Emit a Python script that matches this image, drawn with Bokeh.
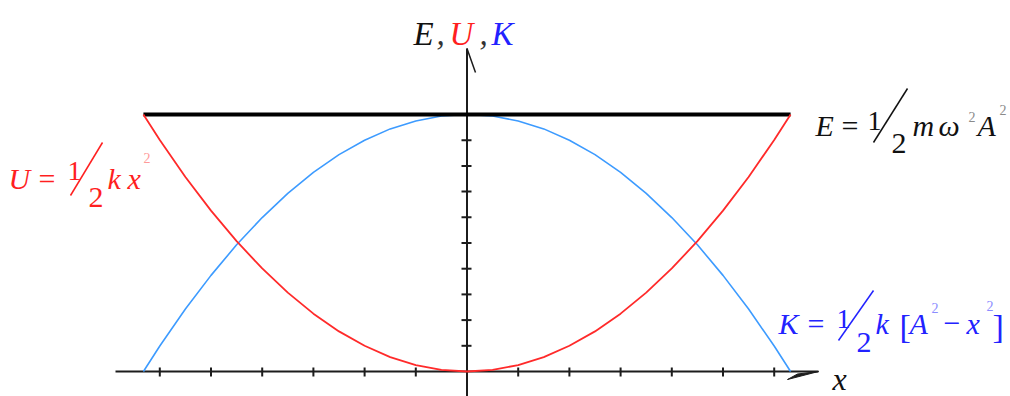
from bokeh.plotting import figure
from bokeh.models import Label, Range1d
from bokeh.embed import file_html
from bokeh.resources import INLINE

# ---- data (E = 10 units, A ~ 6.32 units) ----
x_vals = [-6.32, -6.0, -5.5, -5.0, -4.5, -4.0, -3.5, -3.0, -2.5, -2.0, -1.5, -1.0, -0.5, 0.0,
          0.5, 1.0, 1.5, 2.0, 2.5, 3.0, 3.5, 4.0, 4.5, 5.0, 5.5, 6.0, 6.32]
u_vals = [10.0, 9.01, 7.57, 6.26, 5.07, 4.01, 3.07, 2.25, 1.56, 1.00, 0.56, 0.25, 0.06, 0.0,
          0.06, 0.25, 0.56, 1.00, 1.56, 2.25, 3.07, 4.01, 5.07, 6.26, 7.57, 9.01, 10.0]
k_vals = [0.0, 0.99, 2.43, 3.74, 4.93, 5.99, 6.93, 7.75, 8.44, 9.00, 9.44, 9.75, 9.94, 10.0,
          9.94, 9.75, 9.44, 9.00, 8.44, 7.75, 6.93, 5.99, 4.93, 3.74, 2.43, 0.99, 0.0]
e_level = 10.0
amplitude = 6.32
x_ticks = [-6, -5, -4, -3, -2, -1, 1, 2, 3, 4, 5, 6]
y_ticks = [1, 2, 3, 4, 5, 6, 7, 8, 9]

W, H = 1010, 396
OX, OY = 466.5, 371.0      # page position of origin
SX, SY = 51.2, 25.7        # pixels per unit


def dx(page_x):
    return (page_x - OX) / SX


def dy(page_y):
    return (OY - page_y) / SY


p = figure(width=W, height=H, output_backend="svg", toolbar_location=None,
           x_range=Range1d(dx(0), dx(W)), y_range=Range1d(dy(H), dy(0)),
           min_border=0)
p.axis.visible = False
p.grid.visible = False
p.outline_line_color = None
p.background_fill_color = "white"

AX = "#1c1c1c"
# axes
p.segment(x0=[dx(115)], y0=[0], x1=[dx(818)], y1=[0], line_color=AX, line_width=2)
p.segment(x0=[0], y0=[dy(400)], x1=[0], y1=[dy(48)], line_color=AX, line_width=2)
# arrow decorations
p.segment(x0=[0], y0=[dy(48)], x1=[dx(475)], y1=[dy(72)], line_color=AX, line_width=1.5)
p.patch(x=[dx(818), dx(787), dx(797)], y=[0, dy(379), dy(373.5)], fill_color=AX, line_color=AX, line_width=1)
# ticks
p.segment(x0=x_ticks, y0=[dy(376)] * len(x_ticks), x1=x_ticks, y1=[dy(367)] * len(x_ticks),
          line_color=AX, line_width=2)
p.segment(x0=[dx(461)] * len(y_ticks), y0=y_ticks, x1=[dx(471)] * len(y_ticks), y1=y_ticks,
          line_color=AX, line_width=2)

# curves
p.line(x_vals, k_vals, line_color="#3d9bff", line_width=1.6)
p.line([-amplitude, amplitude], [e_level, e_level], line_color="black", line_width=4)
p.line(x_vals, u_vals, line_color="#ff2a2a", line_width=1.8)

FONT = "Liberation Serif"
RED, BLUE, BLK = "#ff1f1f", "#2222ff", "#111111"


def lab(text, px_, by, size, color, italic=True):
    p.add_layout(Label(x=dx(px_), y=dy(by), text=text, text_font=FONT,
                       text_font_size=f"{size}px", text_color=color,
                       text_font_style="italic" if italic else "normal",
                       text_align="left", text_baseline="alphabetic"))


# title E, U, K
lab("E", 413, 33, 33, BLK)
lab(",", 436, 33, 33, "#333333")
lab("U", 449, 33, 33, RED)
lab(",", 479, 33, 33, "#333333")
lab("K", 491, 33, 33, BLUE)

# U = 1/2 k x^2
lab("U", 8, 178, 30, RED)
lab("=", 38, 178, 30, RED, False)
lab("1", 67, 170, 28, RED, False)
lab("2", 88, 197, 30, RED, False)
lab("k", 107, 178, 30, RED)
lab("x", 127, 178, 30, RED)
lab("2", 143, 157, 14, "#ff9a9a", False)
p.segment(x0=[dx(102)], y0=[dy(142)], x1=[dx(70)], y1=[dy(195)], line_color=RED, line_width=1.5)

# E = 1/2 m w^2 A^2
s = 0
lab("E", 815 + s, 125, 30, BLK)
lab("=", 841 + s, 125, 30, BLK, False)
lab("1", 867 + s, 120, 28, BLK, False)
lab("2", 891 + s, 143, 30, BLK, False)
lab("m", 912 + s, 125, 30, BLK)
lab("ω", 938 + s, 125, 30, BLK)
lab("2", 968 + s, 116, 14, "#8a8a8a", False)
lab("A", 977 + s, 125, 30, BLK)
lab("2", 999 + s, 109, 14, "#8a8a8a", False)
p.segment(x0=[dx(907 + s)], y0=[dy(88)], x1=[dx(873 + s)], y1=[dy(142)], line_color=BLK, line_width=1.5)

# K = 1/2 k [A^2 - x^2]
t = 0
lab("K", 778 + t, 323, 30, BLUE)
lab("=", 807 + t, 323, 30, BLUE, False)
lab("1", 836 + t, 318, 28, BLUE, False)
lab("2", 856 + t, 342, 30, BLUE, False)
lab("k", 875 + t, 323, 30, BLUE)
lab("[", 899 + t, 326, 34, BLUE, False)
lab("A", 909 + t, 323, 30, BLUE)
lab("2", 931 + t, 307, 14, "#8c8cff", False)
lab("−", 943 + t, 323, 30, BLUE, False)
lab("x", 966 + t, 323, 30, BLUE)
lab("2", 986 + t, 305, 14, "#8c8cff", False)
lab("]", 992 + t, 326, 34, BLUE, False)
p.segment(x0=[dx(873 + t)], y0=[dy(290)], x1=[dx(838 + t)], y1=[dy(340)], line_color=BLUE, line_width=1.5)

# x axis label
lab("x", 832, 378, 32, BLK)

open("out.html", "w").write(file_html(p, INLINE))
